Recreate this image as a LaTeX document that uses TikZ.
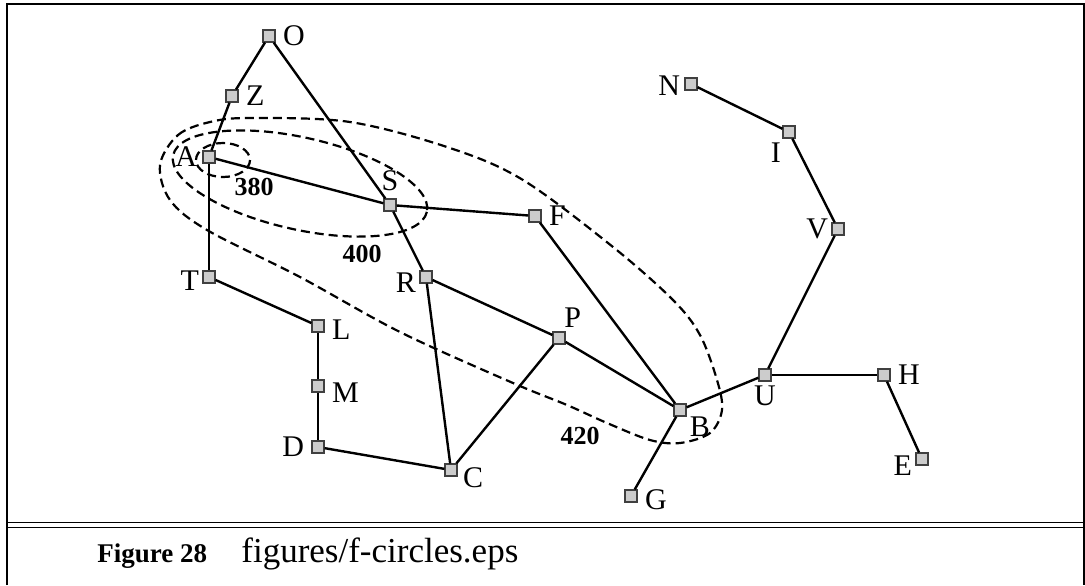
\documentclass[tikz,border=0pt]{standalone}
\usepackage{fontspec}
\setmainfont{Liberation Serif}
\usetikzlibrary{positioning}
\definecolor{citygray}{rgb}{0.80,0.80,0.80}
\tikzset{
  city/.style={
    rectangle,
    draw=black!75,
    fill=citygray,
    line width=0.6pt,
    minimum size=6pt,
    inner sep=0pt
  },
  lbl/.style={
    font=\fontsize{15}{17}\selectfont,
    inner sep=1pt,
    label distance=2.5pt
  },
  road/.style={
    line width=1.2pt,
    black
  },
  contour/.style={
    line width=1.1pt,
    dash pattern=on 4.5pt off 2.5pt
  },
  cost/.style={
    font=\fontsize{13}{15}\selectfont\bfseries,
    inner sep=1pt
  },
  frame/.style={
    line width=1pt
  }
}

\begin{document}
\begin{tikzpicture}[x=0.5pt, y=-0.5pt]
\useasboundingbox (0,0) rectangle (1085,585);
% frame and caption rule
\draw[frame] (6.5,585) -- (6.5,4) -- (1083.5,4) -- (1083.5,585);
\draw[line width=0.8pt] (6.5,522.5) -- (1083.5,522.5);
\draw[line width=0.8pt] (6.5,527.5) -- (1083.5,527.5);

% contours
\draw[contour] (223,160) ellipse [x radius=27, y radius=17];
\draw[contour, rotate around={-12.6:(300,183.5)}] (300,183.5) ellipse [x radius=130, y radius=46];
\draw[contour] plot[smooth cycle, tension=0.55] coordinates {
  (160,165) (178,135) (210,122) (250,118) (350,122) (450,148) (523,180)
  (613,247) (673,300) (700,335) (717,380) (722,410) (710,433) (680,443)
  (650,440) (607,423) (567,405) (513,383) (400,332) (300,277) (207,230)
  (170,200)};

% cities
\node[city, label={[lbl]right:O}] (O) at (269,36) {};
\node[city, label={[lbl]right:Z}] (Z) at (232,96) {};
\node[city, label={[lbl, label distance=1.5pt]left:A}] (A) at (209,157) {};
\node[city, label={[lbl]above:S}] (S) at (390,205) {};
\node[city, label={[lbl]right:F}] (F) at (535,216) {};
\node[city, label={[lbl, label distance=0.5pt, yshift=-2pt]left:T}] (T) at (209,277) {};
\node[city, label={[lbl, label distance=0.5pt, yshift=-3pt]left:R}] (R) at (426,277) {};
\node[city, label={[lbl, yshift=-2pt]right:L}] (L) at (318,326) {};
\node[city, label={[lbl, yshift=-3.5pt]right:M}] (M) at (318,386) {};
\node[city, label={[lbl]left:D}] (D) at (318,447) {};
\node[city, label={[lbl, label distance=1.5pt, yshift=-4pt]right:C}] (C) at (451,470) {};
\node[city, label={[lbl, label distance=1pt]70:P}] (P) at (559,338) {};
\node[city, label={[lbl, label distance=0.5pt, yshift=1pt]-40:B}] (B) at (680,410) {};
\node[city, label={[lbl, yshift=-2pt]right:G}] (G) at (631,496) {};
\node[city, label={[lbl, label distance=1pt]below:U}] (U) at (765,375) {};
\node[city, label={[lbl]right:H}] (H) at (884,375) {};
\node[city, label={[lbl, label distance=0.5pt, yshift=-3.5pt]left:E}] (E) at (922,459) {};
\node[city, label={[lbl, label distance=0.5pt]left:V}] (V) at (838,229) {};
\node[city, label={[lbl, label distance=1pt]-125:I}] (I) at (789,132) {};
\node[city, label={[lbl, label distance=1pt, yshift=-1pt]left:N}] (N) at (691,84) {};

% roads
\draw[road] (O) -- (Z);
\draw[road] (Z) -- (A);
\draw[road] (O) -- (S);
\draw[road] (A) -- (S);
\draw[road] (A) -- (T);
\draw[road] (S) -- (F);
\draw[road] (S) -- (R);
\draw[road] (T) -- (L);
\draw[road] (L) -- (M);
\draw[road] (M) -- (D);
\draw[road] (D) -- (C);
\draw[road] (R) -- (C);
\draw[road] (R) -- (P);
\draw[road] (P) -- (C);
\draw[road] (P) -- (B);
\draw[road] (F) -- (B);
\draw[road] (B) -- (G);
\draw[road] (B) -- (U);
\draw[road] (U) -- (H);
\draw[road] (H) -- (E);
\draw[road] (U) -- (V);
\draw[road] (V) -- (I);
\draw[road] (I) -- (N);

% contour values
\node[cost] (c380) at (254,187) {380};
\node[cost] (c400) at (362,254) {400};
\node[cost] (c420) at (580,436) {420};

% caption
\node[anchor=base west, inner sep=0pt, font=\fontsize{13.5}{16}\selectfont\bfseries] (fignum) at (97,562) {Figure 28};
\node[anchor=base west, inner sep=0pt, font=\fontsize{17.5}{20}\selectfont] (figfile) at (241,562) {figures/f-circles.eps};
\end{tikzpicture}
\end{document}
